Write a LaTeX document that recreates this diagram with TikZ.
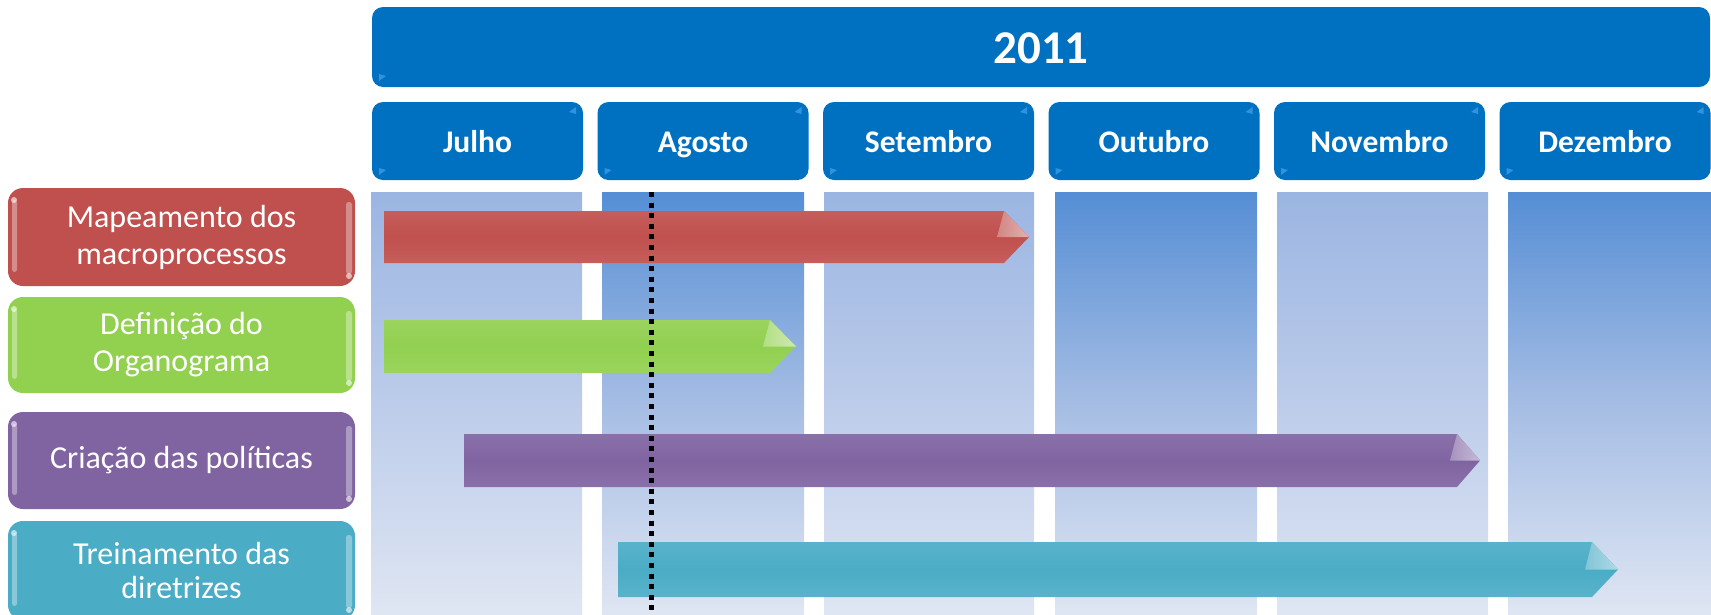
\documentclass[tikz,border=0pt]{standalone}
\usepackage{fontspec}
\setmainfont{Carlito}
\definecolor{bluec}{HTML}{0070C0}
\definecolor{glossc}{HTML}{3E9BE6}
\definecolor{redc}{HTML}{C0504D}
\definecolor{greenc}{HTML}{92D050}
\definecolor{purplec}{HTML}{8064A2}
\definecolor{tealc}{HTML}{4BACC6}
\definecolor{lightTop}{HTML}{9BB5E2}
\definecolor{lightMid}{HTML}{BCCCEA}
\definecolor{darkTop}{HTML}{558ED5}
\definecolor{darkMid}{HTML}{A5BDE4}
\definecolor{colBot}{HTML}{DFE6F3}
\newcommand\ganttbar[6]{%
  \pgfmathsetmacro\barmid{(#2+#3)/2}%
  \shade[top color=#6!92!white, bottom color=#6!92!white, middle color=#6]
    (#1,#2) -- (#4,#2) -- (#5,\barmid) -- (#4,#3) -- (#1,#3) -- cycle;
  \shade[left color=#6!70!white, right color=#6!45!white]
    (#4,#2) -- (#5,\barmid) -- (#4-7,\barmid) -- cycle;
}
\newcommand\taskgloss[2]{%
  \fill[white, opacity=0.35, rounded corners=2.5pt] (12,#1+12) rectangle (17,#2-14);
  \fill[white, opacity=0.35, rounded corners=2.5pt] (346,#1+14) rectangle (352,#2-12);
  \fill[white, opacity=0.6] (14,#1+12) circle (3);
  \fill[white, opacity=0.6] (349,#2-10) circle (3);
}
\newcommand\monthgloss[2]{%
  \fill[glossc, opacity=0.8] (#2-14,112) -- (#2-7,107) -- (#2-7,114) -- cycle;
  \fill[glossc, opacity=0.8] (#1+7,175) -- (#1+7,168) -- (#1+14,170) -- cycle;
}
\begin{document}
\begin{tikzpicture}[x=1pt,y=-1pt,
  month/.style={fill=bluec, rounded corners=11pt, minimum width=211pt,
    minimum height=78pt, text=white, inner sep=0pt,
    text height=24pt, text depth=2pt,
    font=\fontsize{31.5}{38}\selectfont\bfseries},
  task/.style={rounded corners=15pt, minimum width=347pt, text=white,
    inner sep=0pt, align=center, font=\fontsize{32}{37}\selectfont}]
\useasboundingbox (0,0) rectangle (1711,614);
\begin{scope}
\clip (0,0) rectangle (1711,614);
% columns
\shade[top color=lightTop, bottom color=colBot, middle color=lightMid] (371,192) rectangle (582,614);
\shade[top color=darkTop, bottom color=colBot, middle color=darkMid] (602,192) rectangle (804,614);
\shade[top color=lightTop, bottom color=colBot, middle color=lightMid] (824,192) rectangle (1034,614);
\shade[top color=darkTop, bottom color=colBot, middle color=darkMid] (1055,192) rectangle (1257,614);
\shade[top color=lightTop, bottom color=colBot, middle color=lightMid] (1277,192) rectangle (1488,614);
\shade[top color=darkTop, bottom color=colBot, middle color=darkMid] (1508,192) rectangle (1711,614);
% year and months
\node[month, minimum width=1338pt, minimum height=80pt, text height=32pt, text depth=0pt,
  font=\fontsize{47}{56}\selectfont\bfseries] (year) at (1041,47) {2011};
\fill[glossc, opacity=0.8] (379,81) -- (379,74) -- (386,76) -- cycle;
\node[month] (jul) at (477.5,141) {Julho};
\node[month] (ago) at (703,141) {Agosto};
\node[month] (set) at (928.5,141) {Setembro};
\node[month] (out) at (1154,141) {Outubro};
\node[month] (nov) at (1379.5,141) {Novembro};
\node[month] (dez) at (1605,141) {Dezembro};
\monthgloss{372}{583}
\monthgloss{597.5}{808.5}
\monthgloss{823}{1034}
\monthgloss{1048.5}{1259.5}
\monthgloss{1274}{1485}
\monthgloss{1499.5}{1710.5}
% task labels
\node[task, fill=redc, minimum height=98pt] (t1) at (181.5,237) {Mapeamento dos\\macroprocessos};
\node[task, fill=greenc, minimum height=96pt] (t2) at (181.5,345) {Definição do\\Organograma};
\node[task, fill=purplec, minimum height=97pt] (t3) at (181.5,460.5) {Criação das políticas};
\node[task, fill=tealc, minimum height=99pt, font=\fontsize{32}{34}\selectfont] (t4) at (181.5,570.5) {Treinamento das\\diretrizes};
\taskgloss{188}{286}
\taskgloss{297}{393}
\taskgloss{412}{509}
\taskgloss{521}{620}
% bars
\ganttbar{384}{211}{263}{1004}{1029}{redc}
\ganttbar{384}{320}{373}{770}{796}{greenc}
\ganttbar{464}{434}{487}{1457}{1480}{purplec}
\ganttbar{618}{542}{597}{1592}{1618}{tealc}
% today line
\coordinate (dtop) at (651,192);
\coordinate (dbot) at (651,616);
\draw[line width=5pt, dash pattern=on 5pt off 5.6pt] (dtop) -- (dbot);
\end{scope}
\end{tikzpicture}
\end{document}
